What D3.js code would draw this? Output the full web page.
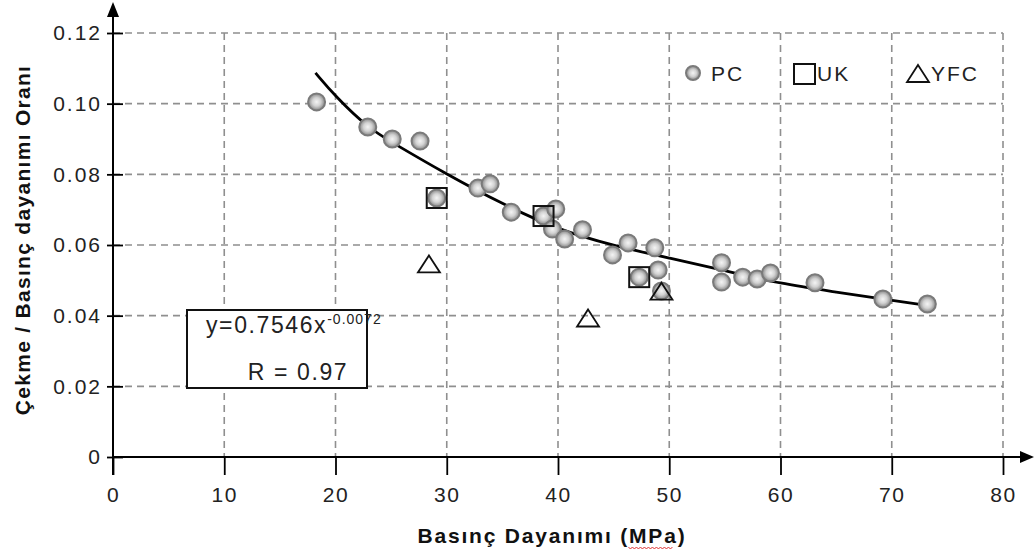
<!DOCTYPE html>
<html>
<head>
<meta charset="utf-8">
<script src="https://cdn.jsdelivr.net/npm/d3@7"></script>
<style>
  html, body { margin: 0; padding: 0; background: #fff; }
  svg { display: block; font-family: "Liberation Sans", Arial, sans-serif; }
</style>
</head>
<body>
<svg id="chart" width="1036" height="554"></svg>
<script>
// ---- data ----
const xTicks = [0, 10, 20, 30, 40, 50, 60, 70, 80];
const yTicks = [0, 0.02, 0.04, 0.06, 0.08, 0.10, 0.12];
const yTickLabels = ["0", "0.02", "0.04", "0.06", "0.08", "0.10", "0.12"];

const pcX = [18.3, 22.9, 25.1, 27.6, 29.1, 32.8, 33.9, 35.8, 38.7, 39.8, 39.5, 40.6, 42.2, 44.9, 46.3, 47.3, 48.7, 49.0, 49.3, 54.7, 54.7, 56.6, 57.9, 59.1, 63.1, 69.2, 73.2];
const pcY = [0.1005, 0.0934, 0.0900, 0.0894, 0.0733, 0.0761, 0.0773, 0.0693, 0.0682, 0.0702, 0.0645, 0.0617, 0.0643, 0.0572, 0.0606, 0.0509, 0.0592, 0.0529, 0.0470, 0.0550, 0.0495, 0.0509, 0.0504, 0.0521, 0.0493, 0.0447, 0.0433];

const ukX = [29.1, 38.7, 47.3];
const ukY = [0.0733, 0.0682, 0.0509];

const yfcX = [28.4, 42.7, 49.3];
const yfcY = [0.0545, 0.0392, 0.0468];

const trendX = [18.2, 20, 22.9, 25.1, 30, 35, 40, 45, 50, 55, 60, 65, 70, 73.4];
const trendY = [0.1087, 0.1020, 0.0932, 0.0890, 0.0800, 0.0716, 0.0643, 0.0598, 0.0563, 0.0528, 0.0490, 0.0467, 0.0443, 0.0428];

const legendLabels = ["PC", "UK", "YFC"];
const xTitle = "Basınç Dayanımı (MPa)";
const yTitle = "Çekme / Basınç dayanımı Oranı";
const eqText = "y=0.7546x";
const eqExp = "-0.0072";
const rText = "R = 0.97";

// ---- scales ----
const svg = d3.select("#chart");
const x = d3.scaleLinear().domain([0, 80]).range([113, 1003]);
const y = d3.scaleLinear().domain([0, 0.12]).range([457, 33]);
const FONT = "Liberation Sans, Arial, sans-serif";
const TXT = "#222";

const defs = svg.append("defs");
const grad = defs.append("radialGradient").attr("id", "pcGrad");
grad.append("stop").attr("offset", "0%").attr("stop-color", "#f4f4f4");
grad.append("stop").attr("offset", "50%").attr("stop-color", "#d2d2d2");
grad.append("stop").attr("offset", "100%").attr("stop-color", "#858585");

// ---- grid ----
const grid = svg.append("g").attr("stroke", "#8f8f8f").attr("stroke-width", 1.6).attr("stroke-dasharray", "7,5");
grid.selectAll("line.v").data(xTicks.filter(d => d > 0)).join("line")
  .attr("x1", d => x(d)).attr("x2", d => x(d))
  .attr("y1", y(0.12)).attr("y2", y(0));
grid.selectAll("line.h").data(yTicks.filter(d => d > 0)).join("line")
  .attr("x1", x(0)).attr("x2", x(80))
  .attr("y1", d => y(d)).attr("y2", d => y(d));

// ---- axes ----
const xAxis = d3.axisBottom(x).tickValues(xTicks).tickSizeInner(18).tickSizeOuter(0).tickPadding(12).tickFormat(d3.format("d"));
const gx = svg.append("g").attr("transform", `translate(0,${y(0)})`).call(xAxis);
gx.select(".domain").remove();
gx.selectAll(".tick line").attr("stroke", "#000").attr("stroke-width", 1.8);
gx.selectAll(".tick text").attr("font-size", 21).attr("fill", TXT)
  .attr("font-family", FONT).attr("letter-spacing", 1.5);

const yAxis = d3.axisLeft(y).tickValues(yTicks).tickSizeInner(6).tickSizeOuter(0).tickPadding(5)
  .tickFormat((d, i) => yTickLabels[i]);
const gy = svg.append("g").attr("transform", `translate(${x(0)},0)`).call(yAxis);
gy.select(".domain").remove();
gy.selectAll(".tick line").attr("stroke", "#000").attr("stroke-width", 1.8).attr("x1", 10);
gy.selectAll(".tick text").attr("font-size", 21).attr("fill", TXT)
  .attr("font-family", FONT).attr("letter-spacing", 2);

// axis lines with arrows
svg.append("line").attr("x1", x(0)).attr("x2", 1024).attr("y1", y(0)).attr("y2", y(0))
  .attr("stroke", "#000").attr("stroke-width", 2);
svg.append("path").attr("d", `M1034,${y(0)} L1020,${y(0) - 6} L1020,${y(0) + 6} Z`).attr("fill", "#000");
svg.append("line").attr("x1", x(0)).attr("x2", x(0)).attr("y1", 475).attr("y2", 12)
  .attr("stroke", "#000").attr("stroke-width", 2);
svg.append("path").attr("d", `M${x(0)},2 L${x(0) - 6},17 L${x(0) + 6},17 Z`).attr("fill", "#000");

// ---- trend line ----
const trend = trendX.map((d, i) => [d, trendY[i]]);
svg.append("path").datum(trend)
  .attr("d", d3.line().x(d => x(d[0])).y(d => y(d[1])).curve(d3.curveBasis))
  .attr("fill", "none").attr("stroke", "#000").attr("stroke-width", 2.8);

// ---- markers ----
function pcCircle(sel) {
  sel.attr("r", 8.5).attr("fill", "url(#pcGrad)").attr("stroke", "#7a7a7a").attr("stroke-width", 2);
}
svg.append("g").selectAll("circle").data(pcX.map((d, i) => [d, pcY[i]])).join("circle")
  .attr("cx", d => x(d[0])).attr("cy", d => y(d[1])).call(pcCircle);

svg.append("g").selectAll("rect").data(ukX.map((d, i) => [d, ukY[i]])).join("rect")
  .attr("x", d => x(d[0]) - 10).attr("y", d => y(d[1]) - 10)
  .attr("width", 20).attr("height", 20)
  .attr("fill", "none").attr("stroke", "#111").attr("stroke-width", 2);

svg.append("g").selectAll("path").data(yfcX.map((d, i) => [d, yfcY[i]])).join("path")
  .attr("d", "M0,-9 L11,8 L-11,8 Z")
  .attr("transform", d => `translate(${x(d[0])},${y(d[1])})`)
  .attr("fill", "none").attr("stroke", "#111").attr("stroke-width", 1.8);

// ---- legend ----
const lg = svg.append("g").attr("font-size", 21).attr("fill", TXT).attr("letter-spacing", 2);
lg.append("circle").attr("cx", 693).attr("cy", 73).call(pcCircle).attr("r", 7);
lg.append("text").attr("x", 711).attr("y", 81).text(legendLabels[0]);
lg.append("rect").attr("x", 794).attr("y", 64).attr("width", 21).attr("height", 20)
  .attr("fill", "none").attr("stroke", "#111").attr("stroke-width", 2);
lg.append("text").attr("x", 817).attr("y", 81).text(legendLabels[1]);
lg.append("path").attr("d", "M918,65 L929,82 L907,82 Z").attr("fill", "none").attr("stroke", "#111").attr("stroke-width", 1.8);
lg.append("text").attr("x", 931).attr("y", 81).text(legendLabels[2]);

// ---- equation box ----
const eb = svg.append("g");
eb.append("rect").attr("x", 187).attr("y", 310).attr("width", 180).attr("height", 78)
  .attr("fill", "#fff").attr("stroke", "#111").attr("stroke-width", 2);
const eq = eb.append("text").attr("x", 206).attr("y", 333).attr("font-size", 23).attr("fill", TXT).attr("letter-spacing", 1.6);
eq.append("tspan").text(eqText);
eq.append("tspan").attr("dy", -9).attr("font-size", 14).attr("letter-spacing", 1).text(eqExp);
eb.append("text").attr("x", 298).attr("y", 380).attr("text-anchor", "middle").attr("font-size", 23)
  .attr("fill", TXT).attr("letter-spacing", 1.6).text(rText);

// ---- titles ----
const xt = svg.append("text").attr("x", 552).attr("y", 543).attr("text-anchor", "middle")
  .attr("font-size", 21).attr("font-weight", "bold").attr("fill", "#111").attr("letter-spacing", 1.8).text(xTitle);
svg.append("text").attr("transform", "translate(30,240) rotate(-90)").attr("text-anchor", "middle")
  .attr("font-size", 21).attr("font-weight", "bold").attr("fill", "#111").attr("letter-spacing", 1.3).text(yTitle);

// red spell-check squiggle under "MPa"
const bb = xt.node().getBBox();
const sq0 = bb.x + bb.width - 58, sq1 = bb.x + bb.width - 14, sqY = 547;
let dq = `M${sq0},${sqY}`;
for (let px = sq0, k = 0; px < sq1; px += 2, k++) dq += ` L${px + 2},${sqY + (k % 2 ? 0 : 2)}`;
svg.append("path").attr("d", dq).attr("fill", "none").attr("stroke", "#e03030").attr("stroke-width", 1);
</script>
</body>
</html>
